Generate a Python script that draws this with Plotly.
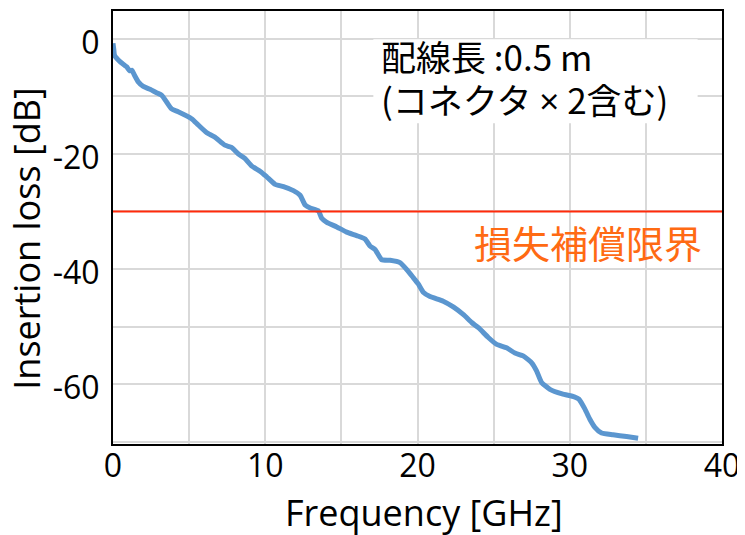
import plotly.graph_objects as go

freq_ghz = [0.0, 0.05, 0.1, 0.46, 0.9, 1.1, 1.25, 1.4, 1.66, 1.99, 2.43, 2.86, 3.19, 3.52,
            3.85, 4.28, 5.16, 5.6, 6.14, 6.69, 7.35, 7.78, 8.22, 8.66, 9.1, 9.7, 10.1, 10.65,
            11.2, 11.85, 12.29, 12.62, 12.95, 13.49, 13.71, 14.04, 14.7, 15.35, 16.0, 16.55,
            16.88, 17.21, 17.65, 18.2, 18.85, 19.29, 19.72, 20.05, 20.4, 20.82, 21.69, 22.35,
            23.0, 23.56, 24.0, 24.65, 25.2, 25.85, 26.4, 26.94, 27.5, 27.82, 28.15, 28.7,
            29.5, 30.3, 30.6, 30.99, 31.32, 31.65, 32.09, 32.85, 33.73, 34.49]
insertion_loss_db = [-0.8, -1.8, -2.9, -4.0, -4.9, -5.6, -5.5, -6.3, -7.5, -8.3, -8.8, -9.4, -9.8, -11.0,
                     -12.2, -12.7, -13.9, -15.0, -16.3, -17.1, -18.5, -18.9, -20.0, -20.8, -22.1, -23.1, -24.0, -25.3,
                     -25.7, -26.4, -27.2, -28.9, -29.4, -29.9, -31.2, -31.9, -32.7, -33.6, -34.2, -34.8,
                     -36.0, -36.6, -38.4, -38.5, -38.9, -40.1, -41.5, -42.6, -44.1, -44.8, -45.6, -46.6,
                     -47.9, -49.3, -50.2, -51.9, -53.1, -53.7, -54.6, -55.1, -56.3, -57.7, -59.7, -60.9,
                     -61.7, -62.2, -62.6, -64.3, -66.1, -67.5, -68.5, -68.8, -69.1, -69.4]
loss_limit_db = -30
x_ticks = [0, 10, 20, 30, 40]
x_tick_labels = ["0", "10", "20", "30", "40"]
y_ticks = [0, -20, -40, -60]
y_tick_labels = ["0", "-20", "-40", "-60"]
note_lines = ["配線長 :0.5 m",
              "(コネクタ <span style=\"font-family:Open Sans\">×</span> 2含む)"]
limit_label = "損失補償限界"
x_title = "Frequency [GHz]"
y_title = "Insertion loss [dB]"

LATIN = "Open Sans, Noto Sans CJK JP"
CJK = "Noto Sans CJK JP, Open Sans"

fig = go.Figure()
fig.add_trace(go.Scatter(x=freq_ghz, y=insertion_loss_db, mode="lines",
                         line=dict(color="#5b96cf", width=5, shape="spline", smoothing=0.5),
                         showlegend=False, hoverinfo="skip"))
fig.add_hline(y=loss_limit_db, line=dict(color="#ff2a0a", width=2))

# white note box
fig.add_shape(type="rect", xref="x", yref="y", x0=17.1, x1=38.4, y0=-14.7, y1=-0.1,
              fillcolor="white", line=dict(width=0), layer="above")
fig.add_annotation(x=17.5, y=-3.0, xref="x", yref="y", text=note_lines[0], showarrow=False,
                   xanchor="left", yanchor="middle", font=dict(family=CJK, size=35, color="black"))
fig.add_annotation(x=17.45, y=-10.4, xref="x", yref="y", text=note_lines[1], showarrow=False,
                   xanchor="left", yanchor="middle", font=dict(family=CJK, size=35, color="black"))
fig.add_annotation(x=38.85, y=-35.3, xref="x", yref="y", text=limit_label, showarrow=False,
                   xanchor="right", yanchor="middle", font=dict(family=CJK, size=38, color="#ff6a13"))

# axis titles
fig.add_annotation(x=0.511, y=-0.159, xref="paper", yref="paper", text=x_title, showarrow=False,
                   xanchor="center", yanchor="middle", font=dict(family=LATIN, size=36, color="black"))
fig.add_annotation(x=-0.142, y=0.473, xref="paper", yref="paper", text=y_title, showarrow=False,
                   textangle=-90, xanchor="center", yanchor="middle",
                   font=dict(family=LATIN, size=36, color="black"))

axis_common = dict(showline=True, linecolor="black", linewidth=2, mirror=True,
                   showgrid=True, gridcolor="#d9d9d9", gridwidth=1.5, zeroline=False,
                   ticks="", ticklen=0, automargin=False,
                   tickfont=dict(family=LATIN, size=32, color="black"))
fig.update_xaxes(range=[0, 40], tickvals=x_ticks, ticktext=x_tick_labels, ticklabelstandoff=-7,
                 **axis_common,
                 minor=dict(dtick=5, showgrid=True, gridcolor="#d9d9d9", gridwidth=1.5))
fig.update_yaxes(range=[-70.4, 4.8], tickvals=y_ticks, ticktext=y_tick_labels, ticklabelstandoff=5,
                 ticklabelshift=4, **axis_common,
                 minor=dict(dtick=10, showgrid=True, gridcolor="#d9d9d9", gridwidth=1.5))

# page body has an 8px margin, so the figure is sized to fit the 745x535 window
fig.update_layout(width=737, height=527, margin=dict(l=105, r=23, t=3, b=91),
                  plot_bgcolor="white", paper_bgcolor="white")
fig.write_html("out.html")
